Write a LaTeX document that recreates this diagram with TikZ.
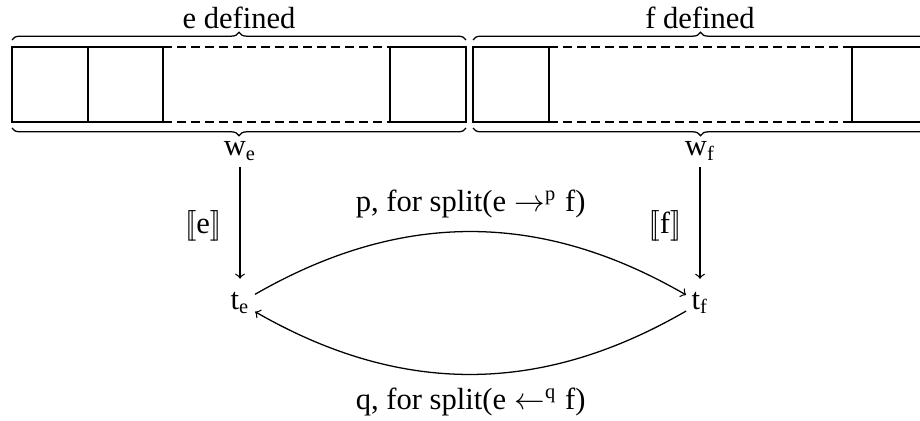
\documentclass[tikz,border=0pt]{standalone}
\usepackage{fontspec}
\setmainfont{Liberation Serif}
\usetikzlibrary{decorations.pathreplacing}
\newcommand{\sembr}[1]{[\![#1]\!]}
\newcommand{\mr}[1]{\mathrm{#1}}
\begin{document}
\begin{tikzpicture}[x=0.0138cm,y=-0.0138cm,
  every node/.style={font=\fontsize{12}{14}\selectfont, inner sep=2pt},
  cell/.style={draw, line width=0.5pt},
  dashline/.style={draw, dash pattern=on 3.5pt off 2pt, line width=0.5pt},
  bracedeco/.style={decorate, decoration={brace, amplitude=3pt}, line width=0.5pt},
  conn/.style={->, line width=0.5pt}]
\useasboundingbox (0,0) rectangle (920,421);
% left box
\draw[cell] (12,47) rectangle (88,122);
\draw[cell] (88,47) rectangle (163,122);
\draw[dashline] (163,47) -- (390,47);
\draw[dashline] (163,122) -- (390,122);
\draw[cell] (390,47) rectangle (466,122);
% right box
\draw[cell] (473,47) rectangle (549,122);
\draw[dashline] (549,47) -- (852,47);
\draw[dashline] (549,122) -- (852,122);
\draw[cell] (852,47) rectangle (928,122);
% braces
\draw[bracedeco] (12,40) -- (466,40);
\draw[bracedeco] (473,40) -- (928,40);
\draw[bracedeco] (466,128) -- (12,128);
\draw[bracedeco] (928,128) -- (473,128);
\node (ed) at (239,18) {$\mr{e}$ defined};
\node (fd) at (700,18) {$\mr{f}$ defined};
\node (we) at (240,151) {$\mr{w}_{\mr{e}}$};
\node (wf) at (700,151) {$\mr{w}_{\mr{f}}$};
% nodes
\node (te) at (240,303) {$\mr{t}_{\mr{e}}$};
\node (tf) at (700,303) {$\mr{t}_{\mr{f}}$};
\draw[conn, shorten <=0.5pt, shorten >=3pt] (we) -- node[left=5pt] {$\sembr{\mr{e}}$} (te);
\draw[conn, shorten <=0.5pt, shorten >=3pt] (wf) -- node[left=5pt] {$\sembr{\mr{f}}$} (tf);
\draw[conn] (te) to[bend left=30] node[above=3pt] {$\mr{p}$, for split($\mr{e} \rightarrow^{\mr{p}} \mr{f}$)} (tf);
\draw[conn] (tf) to[bend left=30] node[below=3pt] {$\mr{q}$, for split($\mr{e} \leftarrow^{\mr{q}} \mr{f}$)} (te);
\end{tikzpicture}
\end{document}
